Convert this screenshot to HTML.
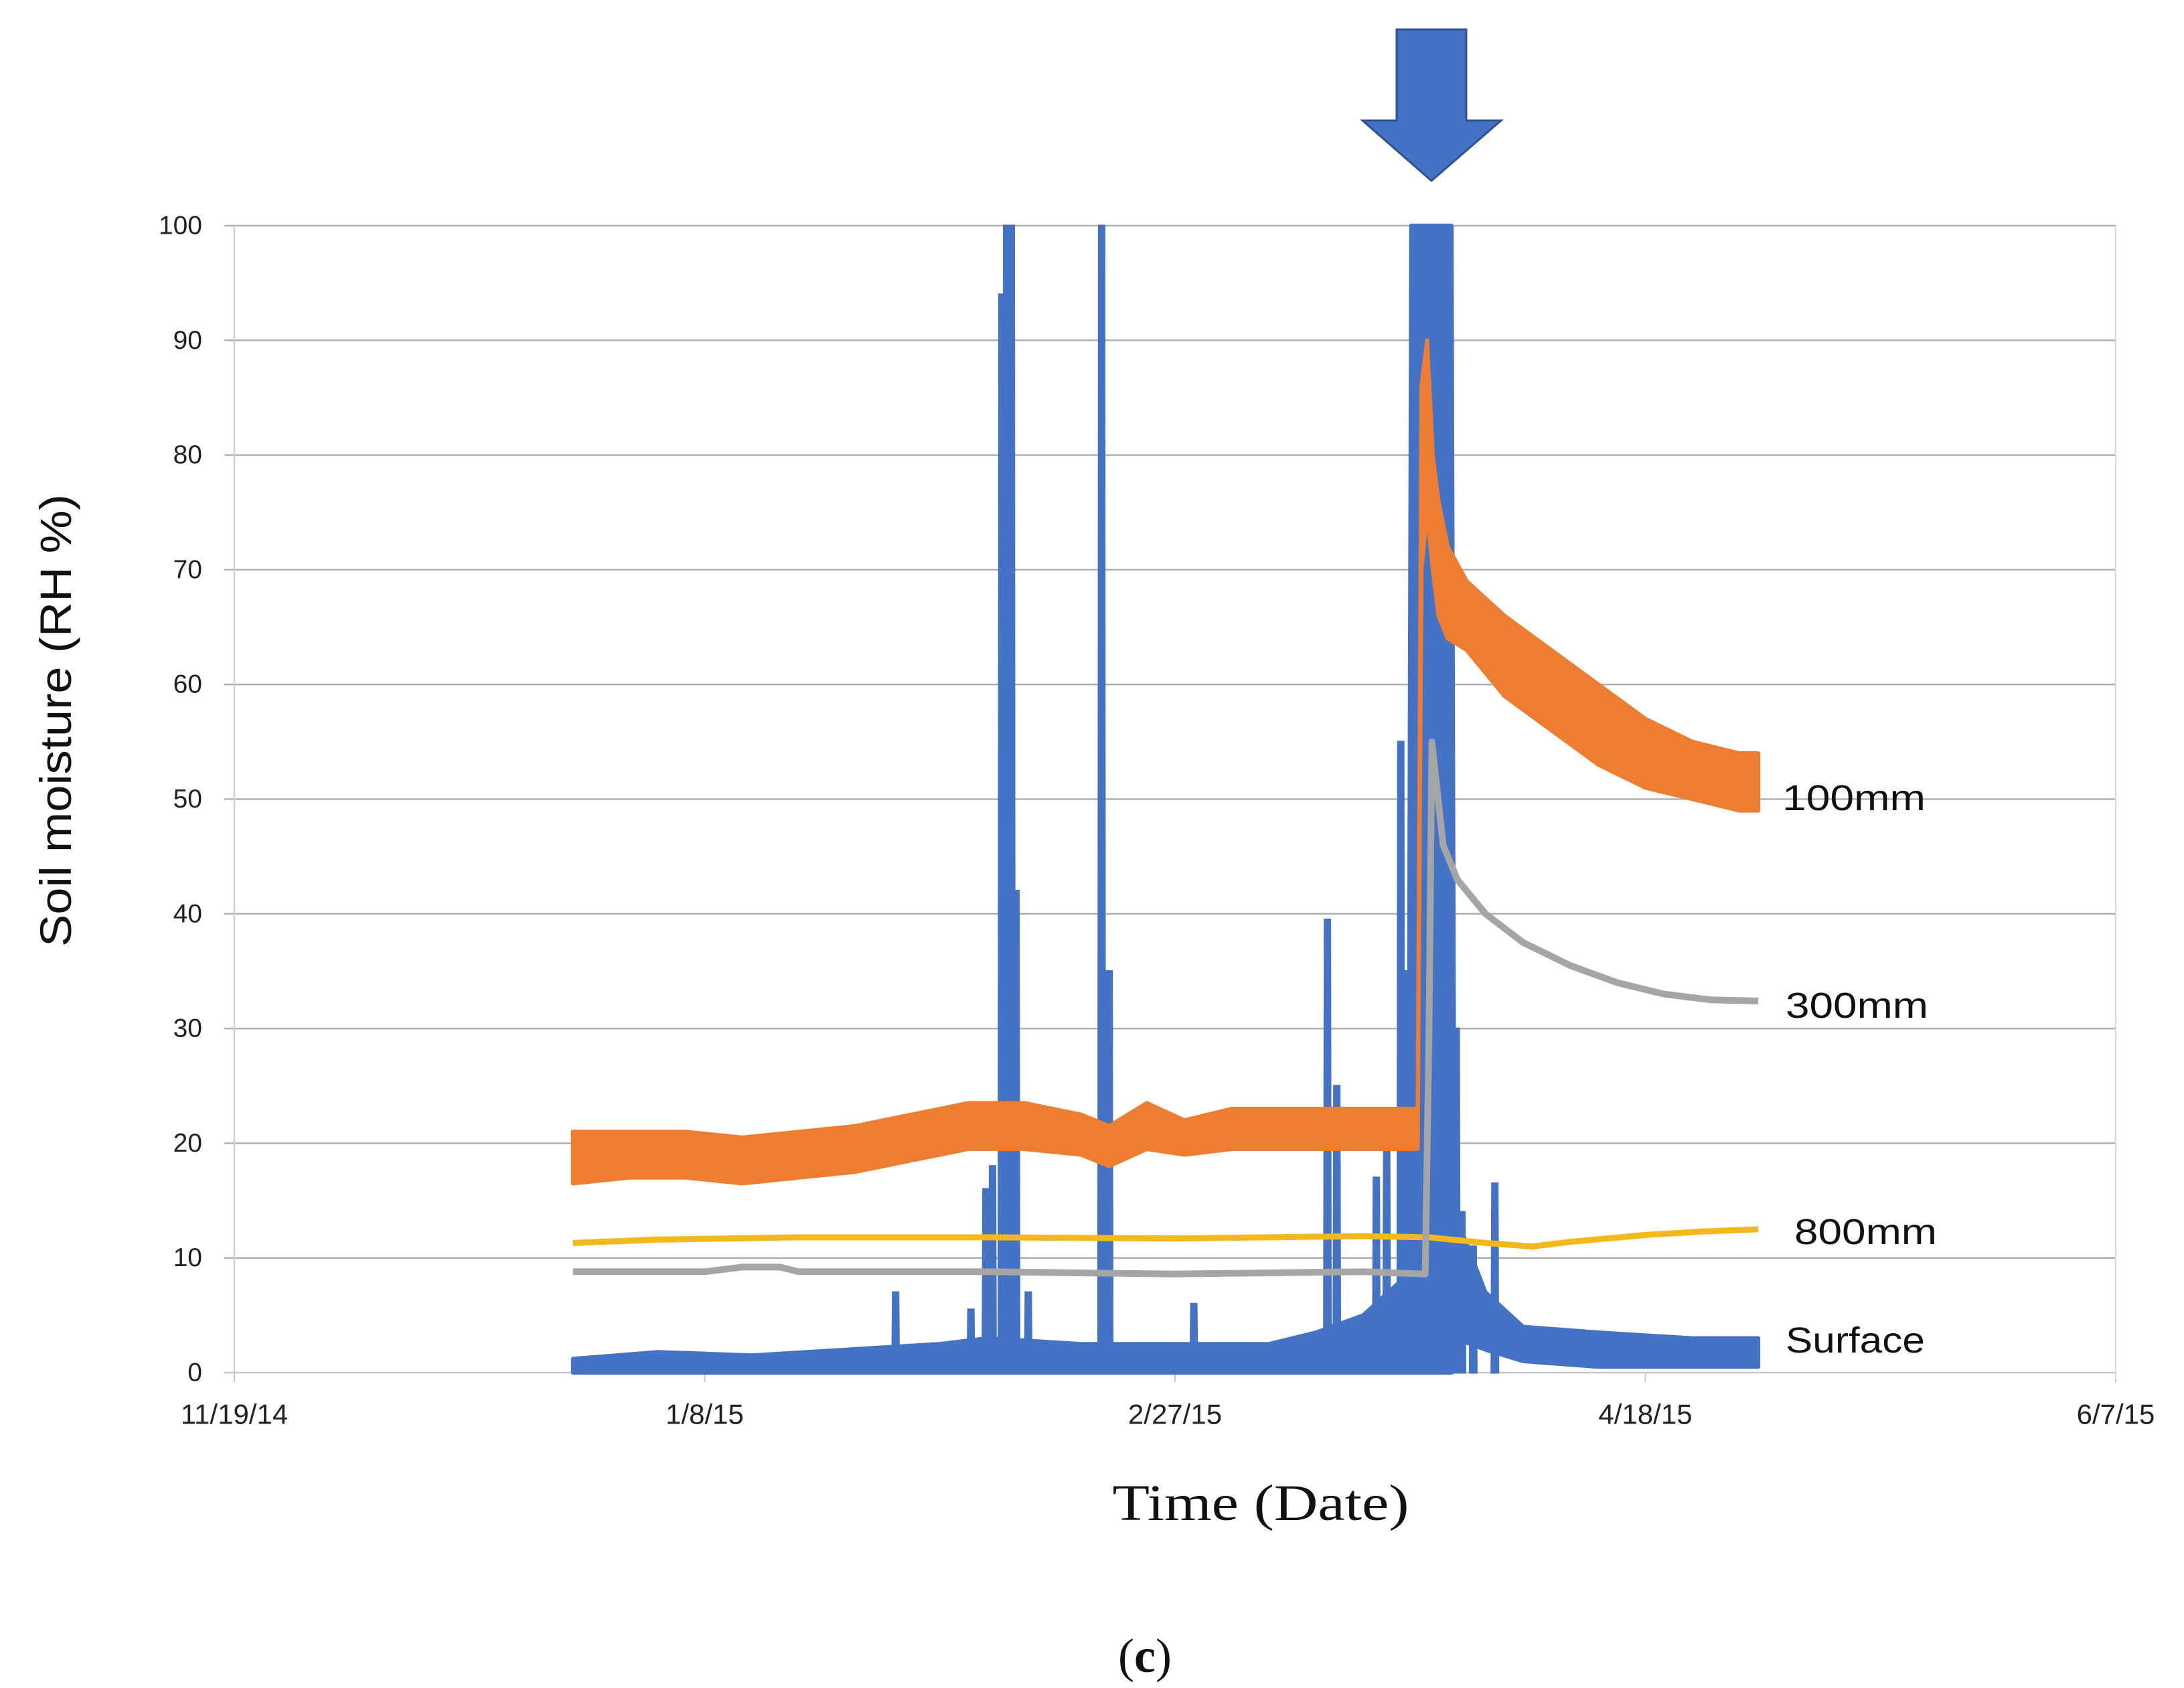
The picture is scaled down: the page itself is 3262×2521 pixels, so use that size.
<!DOCTYPE html>
<html><head><meta charset="utf-8"><style>
html,body{margin:0;padding:0;background:#fff;}
svg{display:block;}
</style></head><body>
<svg id="chart" xmlns="http://www.w3.org/2000/svg" width="3262" height="2521" viewBox="0 0 3262 2521">
<rect x="0" y="0" width="3262" height="2521" fill="#fff"/>
<g id="grid"></g>
<g id="series"></g>
<g id="axes"></g>
<polygon points="2086,44 2190,44 2190,180 2242,180 2138,270 2035,180 2086,180" fill="#4472C4" stroke="#2F528F" stroke-width="3"/>
<text x="0" y="0" transform="translate(106,1076) rotate(-90)" text-anchor="middle" font-family="Liberation Sans, sans-serif" font-size="66" textLength="676" lengthAdjust="spacingAndGlyphs" fill="#111">Soil moisture (RH %)</text>
<text x="1883" y="2270" text-anchor="middle" font-family="Liberation Serif, serif" font-size="76" textLength="443" lengthAdjust="spacingAndGlyphs" fill="#111">Time (Date)</text>
<text x="1710" y="2497" text-anchor="middle" font-family="Liberation Serif, serif" font-size="72" fill="#111">(<tspan font-weight="bold">c</tspan>)</text>
<text x="2662" y="1192" dominant-baseline="central" font-family="Liberation Sans, sans-serif" font-size="54" textLength="214" lengthAdjust="spacingAndGlyphs" fill="#111">100mm</text>
<text x="2667" y="1502" dominant-baseline="central" font-family="Liberation Sans, sans-serif" font-size="54" textLength="213" lengthAdjust="spacingAndGlyphs" fill="#111">300mm</text>
<text x="2680" y="1840" dominant-baseline="central" font-family="Liberation Sans, sans-serif" font-size="54" textLength="213" lengthAdjust="spacingAndGlyphs" fill="#111">800mm</text>
<text x="2667" y="2002" dominant-baseline="central" font-family="Liberation Sans, sans-serif" font-size="54" textLength="208" lengthAdjust="spacingAndGlyphs" fill="#111">Surface</text>
</svg>
<script>
// Axis: days since 11/19/14
const xTickDays = [0, 50, 100, 150, 200];
const xTickLabels = ["11/19/14", "1/8/15", "2/27/15", "4/18/15", "6/7/15"];
const yTicks = [0, 10, 20, 30, 40, 50, 60, 70, 80, 90, 100];

// 100mm (orange) band: day, low, high
const d100 = [36, 42, 48, 54, 60, 66, 72, 78, 84, 90, 93, 97, 101, 106, 112, 118, 124, 125.8, 126.2, 126.8, 127.4, 128, 129, 131, 135, 140, 145, 150, 155, 160, 162];
const lo100 = [16.5, 17, 17, 16.5, 17, 17.5, 18.5, 19.5, 19.5, 19, 18, 19.5, 19, 19.5, 19.5, 19.5, 19.5, 19.5, 70, 75, 70, 66, 64, 63, 59, 56, 53, 51, 50, 49, 49];
const hi100 = [21, 21, 21, 20.5, 21, 21.5, 22.5, 23.5, 23.5, 22.5, 21.5, 23.5, 22, 23, 23, 23, 23, 23, 86, 90, 80, 76, 72, 69, 66, 63, 60, 57, 55, 54, 54];

// 300mm (gray) line
const d300 = [36, 50, 54, 58, 60, 80, 100, 120, 126.6, 127, 127.3, 128.5, 130, 133, 137, 142, 147, 152, 157, 162];
const v300 = [8.8, 8.8, 9.2, 9.2, 8.8, 8.8, 8.6, 8.8, 8.6, 30, 55, 46, 43, 40, 37.5, 35.5, 34, 33, 32.5, 32.4];

// 800mm (yellow) line
const d800 = [36, 45, 60, 80, 100, 120, 127, 133, 138, 142, 150, 156, 162];
const v800 = [11.3, 11.6, 11.8, 11.8, 11.7, 11.9, 11.8, 11.3, 11.0, 11.4, 12, 12.3, 12.5];

// Surface (blue) baseline band: day, low, high
const dSurf = [36, 45, 55, 65, 75, 80, 90, 100, 110, 115, 120, 124, 124.8, 125.1, 129.4, 129.7, 133, 137, 145, 155, 162];
const loSurf = [0, 0, 0, 0, 0, 0, 0, 0, 0, 0, 0, 0, 0, 0, 0, 3, 2, 1, 0.5, 0.5, 0.5];
const hiSurf = [1.2, 1.8, 1.5, 2, 2.5, 3, 2.5, 2.5, 2.5, 3.5, 5, 8, 8, 100, 100, 14, 7, 4, 3.5, 3, 3];
// Surface spikes
const spikeDays = [70.3, 78.3, 79.9, 80.6, 81.6, 82.1, 82.6, 83.1, 84.4, 92.2, 93, 102, 116.2, 117.2, 121.4, 122.5, 124, 124.6, 129.9, 130.5, 131.7, 134];
const spikeVals = [7, 5.5, 16, 18, 94, 100, 100, 42, 7, 100, 35, 6, 39.5, 25, 17, 20, 55, 35, 30, 14, 11, 16.5];

const NS = "http://www.w3.org/2000/svg";
const X0 = 350, PXDAY = 14.05, Y0 = 2050, PXUNIT = 17.13;
function xs(d){ return X0 + d * PXDAY; }
function ys(v){ return Y0 - v * PXUNIT; }
function mk(tag, attrs, parent){
  const e = document.createElementNS(NS, tag);
  for (const k in attrs) e.setAttribute(k, attrs[k]);
  parent.appendChild(e);
  return e;
}
const grid = document.getElementById('grid');
const axes = document.getElementById('axes');
const series = document.getElementById('series');

yTicks.forEach(function(v){
  const gl = mk('line', {x1: 335, x2: xs(200), y1: ys(v), y2: ys(v), stroke: v === 0 ? '#c8c8c8' : '#b0b0b0', 'stroke-width': 2.5}, grid);
  
  
  const t = mk('text', {x: 302, y: ys(v), 'text-anchor': 'end', 'dominant-baseline': 'central', 'font-family': 'Liberation Sans, sans-serif', 'font-size': 39, fill: '#222'}, axes);
  t.textContent = v;
  
  
});
const la = mk('line', {x1: xs(0), x2: xs(0), y1: ys(100), y2: Y0 + 12, stroke: '#d0d0d0', 'stroke-width': 2.5}, grid);


xTickDays.forEach(function(d, i){
  const tk = mk('line', {x1: xs(d), x2: xs(d), y1: Y0, y2: Y0 + 14, stroke: '#c8c8c8', 'stroke-width': 2}, grid);
  
  
  const t = mk('text', {x: xs(d), y: 2112, 'text-anchor': 'middle', 'dominant-baseline': 'central', 'font-family': 'Liberation Sans, sans-serif', 'font-size': 42, fill: '#222'}, axes);
  t.textContent = xTickLabels[i];
  
  
});
const ra = mk('line', {x1: xs(200), x2: xs(200), y1: ys(100), y2: Y0 + 12, stroke: '#d8d8d8', 'stroke-width': 2}, grid);



function band(days, lo, hi, color){
  let pts = [];
  for (let i = 0; i < days.length; i++) pts.push(xs(days[i]).toFixed(1) + ',' + ys(hi[i]).toFixed(1));
  for (let i = days.length - 1; i >= 0; i--) pts.push(xs(days[i]).toFixed(1) + ',' + ys(lo[i]).toFixed(1));
  return mk('polygon', {points: pts.join(' '), fill: color, stroke: color, 'stroke-width': 6, 'stroke-linejoin': 'round'}, series);
}
function line(days, vals, color, w){
  const pts = days.map(function(d, i){ return xs(d).toFixed(1) + ',' + ys(vals[i]).toFixed(1); });
  return mk('polyline', {points: pts.join(' '), fill: 'none', stroke: color, 'stroke-width': w, 'stroke-linejoin': 'round'}, series);
}

// Surface
const sb = band(dSurf, loSurf, hiSurf, '#4472C4');


spikeDays.forEach(function(d, i){
  const sp = mk('polygon', {points: (xs(d) - 5) + ',' + ys(0) + ' ' + (xs(d) - 4) + ',' + ys(spikeVals[i]) + ' ' + (xs(d) + 4) + ',' + ys(spikeVals[i]) + ' ' + (xs(d) + 5) + ',' + ys(0), fill: '#4472C4', stroke: '#4472C4', 'stroke-width': 3}, series);
  
  
});
// 800mm
const l8 = line(d800, v800, '#F2B81C', 9);


// 300mm
const l3 = line(d300, v300, '#A5A5A5', 10);


// 100mm
const b1 = band(d100, lo100, hi100, '#ED7D31');


</script>
</body></html>
